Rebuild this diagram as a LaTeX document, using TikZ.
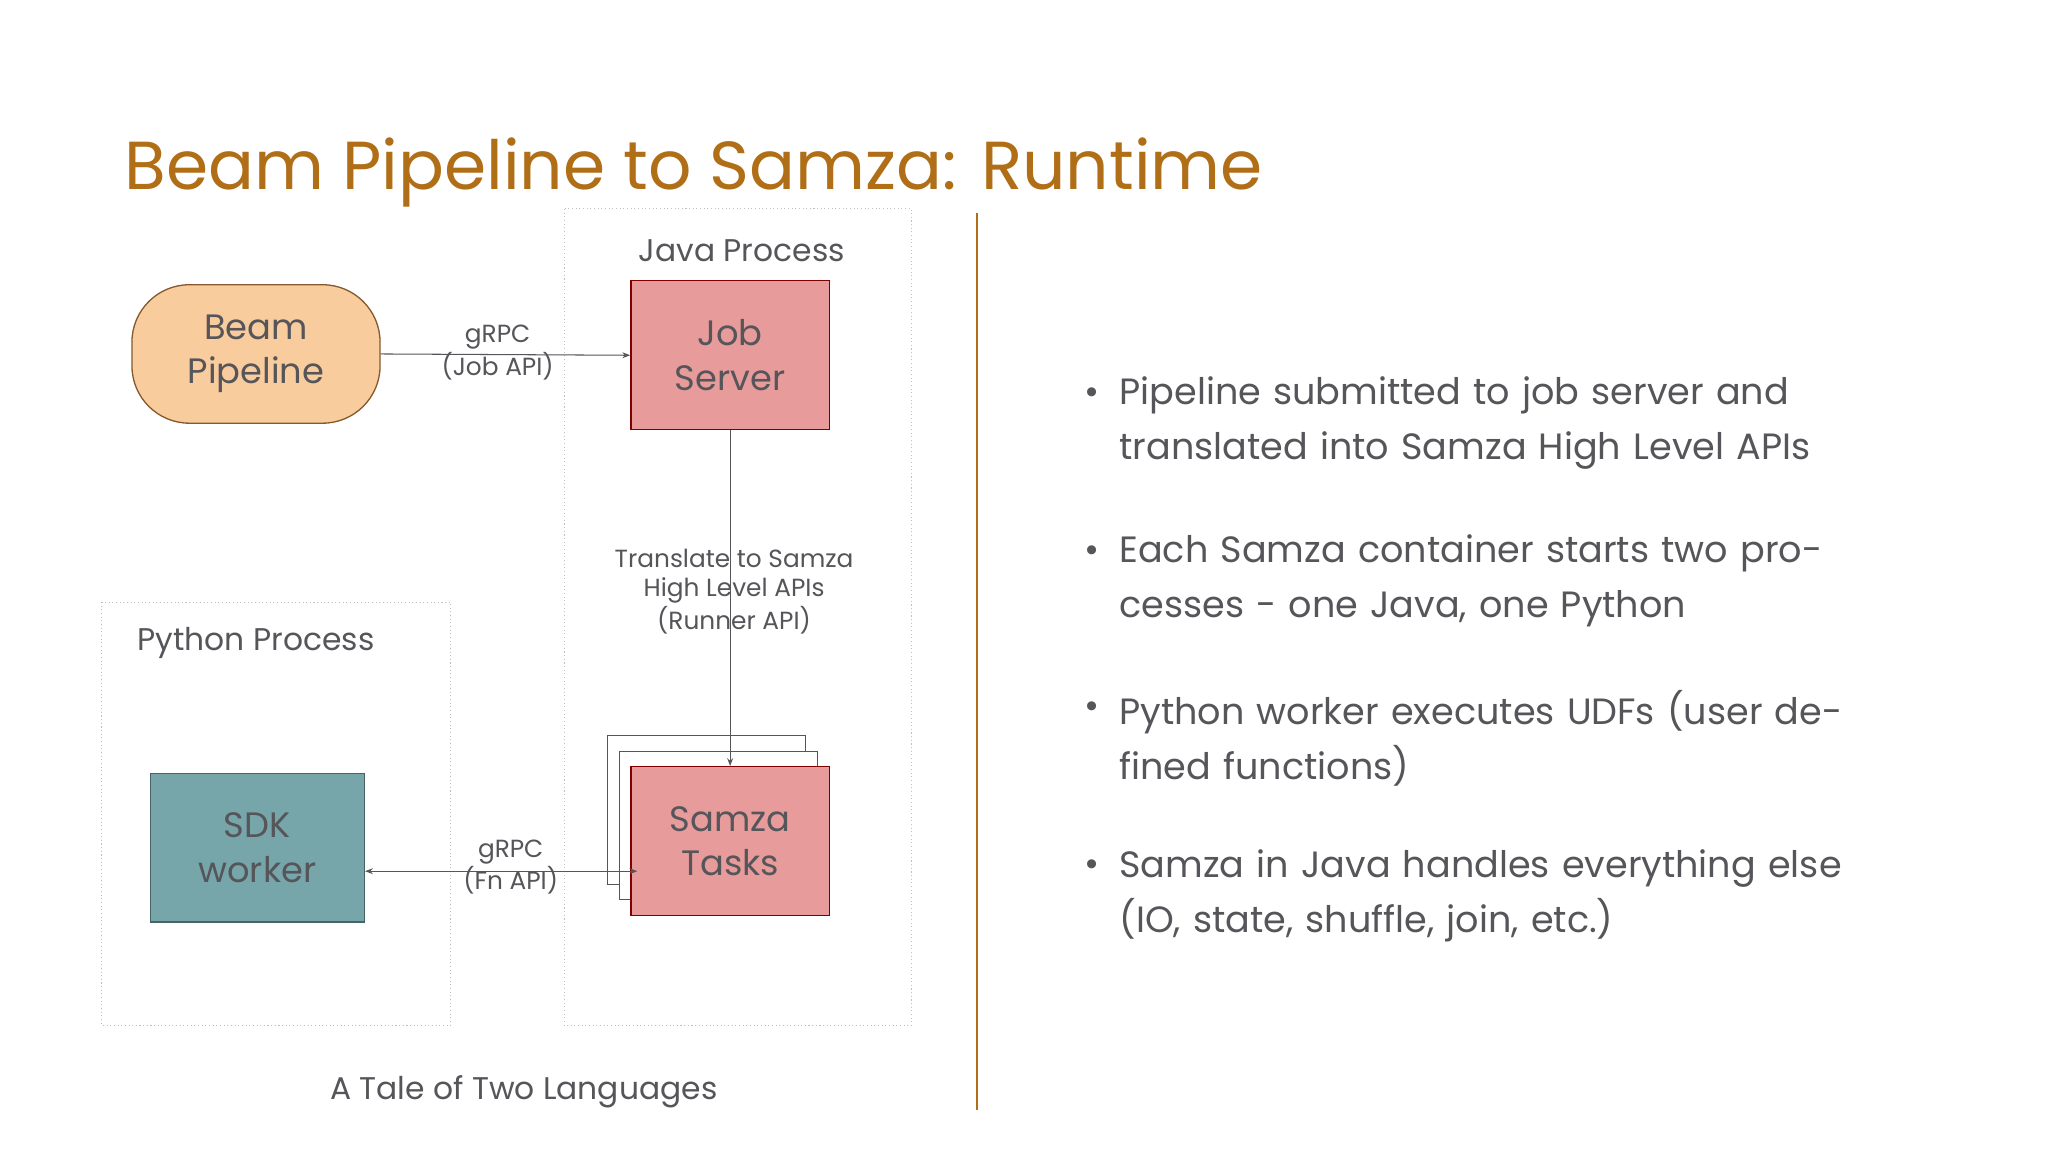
\documentclass[tikz,border=0pt]{standalone}
\usepackage{fontspec}
\setmainfont{Poppins}
\usetikzlibrary{positioning,arrows.meta}
\definecolor{titlebrown}{RGB}{176,110,22}
\definecolor{txtgray}{RGB}{85,85,90}
\definecolor{peach}{RGB}{249,204,158}
\definecolor{rose}{RGB}{232,155,155}
\definecolor{teal}{RGB}{118,165,170}
\tikzset{
  procbox/.style={draw=gray!50,densely dotted,line width=0.4pt},
  block/.style={draw,line width=0.5pt,minimum width=76pt,minimum height=57pt,align=center,font=\fontsize{13.5}{17}\selectfont,text=txtgray},
  lbl/.style={font=\fontsize{9.5}{11}\selectfont,text=txtgray,align=center,inner sep=1pt},
  conn/.style={draw=txtgray,line width=0.4pt,-{Stealth[length=3pt]}},
  bullet/.style={anchor=west,font=\fontsize{14}{21}\selectfont,text=txtgray,align=left,text width=300pt}
}
\begin{document}
\begin{tikzpicture}[x=0.5pt,y=-0.5pt]
  \useasboundingbox[fill=white] (0,0) rectangle (1568,882);
  % title
  \node[anchor=base west,inner sep=0,text=titlebrown,font=\fontsize{26}{30}\selectfont] (title) at (95,145) {Beam Pipeline to Samza: Runtime};
  % process boxes
  \draw[procbox] (432,160) rectangle (698,785);
  \node[lbl,font=\fontsize{12}{14}\selectfont] (java) at (568,192) {Java Process};
  \draw[procbox] (78,461) rectangle (345,785);
  \node[lbl,font=\fontsize{12}{14}\selectfont] (python) at (196,492) {Python Process};
  % blocks
  \node[block,fill=peach,draw=brown!70!black,rounded corners=22pt,minimum width=95pt,minimum height=53pt] (beam) at (196,271) {Beam\\Pipeline};
  \node[block,fill=rose,draw=red!50!black] (job) at (559,272) {Job\\Server};
  \draw[fill=white,draw=txtgray,line width=0.4pt] (465,563) rectangle (617,677);
  \draw[fill=white,draw=txtgray,line width=0.4pt] (474,575) rectangle (626,689);
  \node[block,fill=rose,draw=red!50!black] (tasks) at (559,644) {Samza\\Tasks};
  \node[block,fill=teal,draw=teal!60!black,minimum width=82pt] (sdk) at (197,649) {SDK\\worker};
  % connectors
  \draw[conn] (beam.east) -- (job.west);
  \node[lbl] (grpcjob) at (381,270) {gRPC\\(Job API)};
  \draw[conn] (job.south) -- (tasks.north);
  \node[lbl] (translate) at (562,453) {Translate to Samza\\High Level APIs\\(Runner API)};
  \coordinate (tin) at (488,667);
  \draw[conn,{Stealth[length=3pt]}-{Stealth[length=3pt]}] (sdk.east |- tin) -- (tin);
  \node[lbl] (grpcfn) at (391,664) {gRPC\\(Fn API)};
  % caption and divider
  \node[lbl,font=\fontsize{12}{14}\selectfont] (caption) at (401,836) {A Tale of Two Languages};
  \draw[titlebrown,line width=0.6pt] (748,163) -- (748,850);
  % bullets
  \foreach \y/\t in {324/{Pipeline submitted to job server and translated into Samza High Level APIs},
                     445/{Each Samza container starts two processes - one Java, one Python},
                     565/{Python worker executes UDFs (user defined functions)},
                     686/{Samza in Java handles everything else (IO, state, shuffle, join, etc.)}}{
    \node[text=txtgray,font=\fontsize{14}{14}\selectfont] at (836,\y-21) {•};
    \node[bullet] at (850,\y) {\hyphenpenalty=10000 \t};
  }
\end{tikzpicture}
\end{document}
